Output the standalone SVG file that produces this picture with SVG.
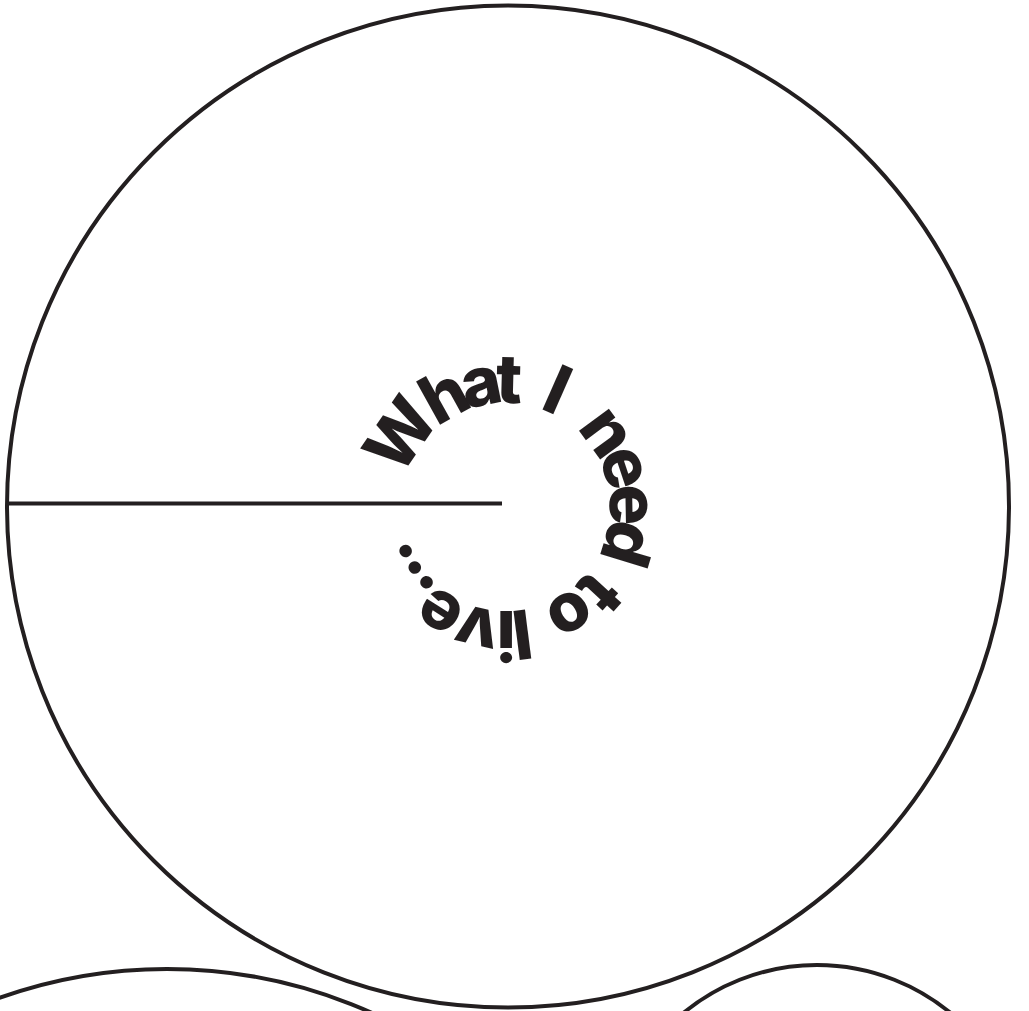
<svg xmlns="http://www.w3.org/2000/svg" xmlns:xlink="http://www.w3.org/1999/xlink" width="1029" height="1011" viewBox="0 0 1029 1011">
  <style>
    .ring { fill: none; stroke: #231f20; stroke-width: 4; }
    .title { font-family: Inter, "DejaVu Sans", sans-serif; font-weight: 800; font-size: 68px; fill: #231f20; }
  </style>
  <defs>
    <path id="textArc" d="M405.4,480.6 A104,104 0 1 1 606.6,533.4 A104,104 0 1 1 405.4,480.6"/>
  </defs>
  <rect width="1029" height="1011" fill="#ffffff"/>
  <g id="main-circle">
    <circle class="ring" cx="508" cy="506.5" r="501"/>
  </g>
  <g id="bottom-left-circle">
    <circle class="ring" cx="167" cy="1469" r="500"/>
  </g>
  <g id="bottom-right-circle">
    <circle class="ring" cx="817" cy="1175" r="210"/>
  </g>
  <g id="connectors">
    <line x1="8" y1="503.5" x2="502" y2="503.5" stroke="#231f20" stroke-width="4"/>
  </g>
  <g id="title">
    <text class="title"><textPath xlink:href="#textArc" href="#textArc" startOffset="0" textLength="152" lengthAdjust="spacing">What</textPath></text>
    <text class="title"><textPath xlink:href="#textArc" href="#textArc" startOffset="170">I</textPath></text>
    <text class="title"><textPath xlink:href="#textArc" href="#textArc" startOffset="212" textLength="140" lengthAdjust="spacing">need</textPath></text>
    <text class="title"><textPath xlink:href="#textArc" href="#textArc" startOffset="364" textLength="64" lengthAdjust="spacing">to</textPath></text>
    <text class="title"><textPath xlink:href="#textArc" href="#textArc" startOffset="440" textLength="155" lengthAdjust="spacing">live...</textPath></text>
  </g>
</svg>
